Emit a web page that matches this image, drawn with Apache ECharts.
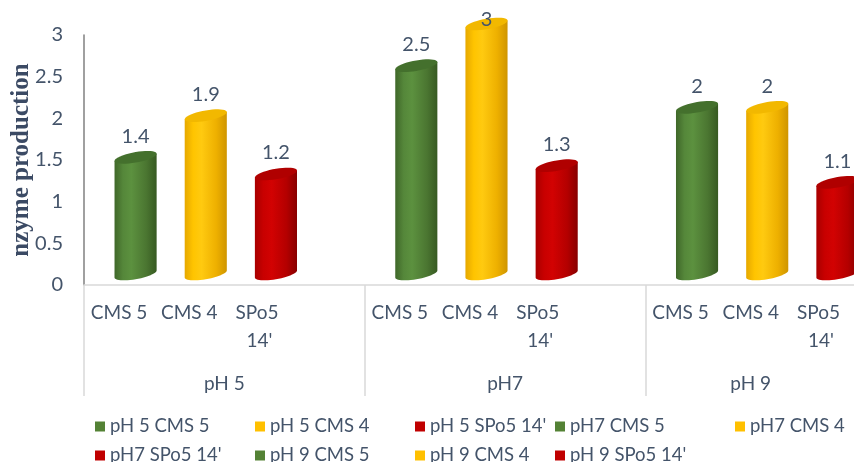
<!DOCTYPE html>
<html>
<head>
<meta charset="utf-8">
<script src="https://cdn.jsdelivr.net/npm/echarts@6/dist/echarts.min.js"></script>
<style>
  html, body { margin: 0; padding: 0; background: #ffffff; }
  #chart { width: 854px; height: 462px; }
</style>
</head>
<body>
<div id="chart"></div>
<script>
// Groups along the axis and the strains measured within each group
const groups = ['pH 5', 'pH7', 'pH 9'];
const strains = ['CMS 5', 'CMS 4', "SPo5 14'"];

// Enzyme production per strain, one array per pH group
const valuesPH5 = [1.4, 1.9, 1.2];
const valuesPH7 = [2.5, 3, 1.3];
const valuesPH9 = [2, 2, 1.1];
const groupValues = [valuesPH5, valuesPH7, valuesPH9];

// Value axis range
const yMin = 0;
const yMax = 3;
const yInterval = 0.5;

// Colour per strain: flat colour, cylinder body shading and cap
const strainColors = ['#548235', '#FFC000', '#C00000'];
const bodyShades = [
  ['#3f6729', '#55873a', '#5c913f', '#4b7631', '#375a22'],
  ['#e6a800', '#ffc400', '#ffca10', '#eeb000', '#cf9500'],
  ['#a80000', '#c80000', '#d20202', '#b40000', '#880000']
];
const capShades = ['#44702d', '#f2b800', '#b00000'];

const textColor = '#44546a';
const font = 'Lato';

// Slots on the category axis: each group's strains, with an empty spacer slot between groups
const slotLabels = [];
const groupSpans = [];
groups.forEach((g, gi) => {
  const start = slotLabels.length;
  strains.forEach(s => slotLabels.push(s));
  if (gi < groups.length - 1) slotLabels.push('');
  groupSpans.push([start, slotLabels.length]);
});
const slotCount = slotLabels.length;
const dividerValues = groupSpans.map(s => s[0]);
const groupCenters = groupSpans.map(s => (s[0] + s[1]) / 2);

// Sheared ellipse outline (tilted cylinder cross-section)
function ellipsePoints(cx, cy, rx, ry, shear, t0, t1, n) {
  const pts = [];
  for (let i = 0; i <= n; i++) {
    const t = t0 + (t1 - t0) * i / n;
    const c = Math.cos(t), s = Math.sin(t);
    pts.push([cx + rx * c, cy + ry * s - shear * rx * c]);
  }
  return pts;
}

function makeCylinderRenderer(strainIdx) {
  return function (params, api) {
    const slot = api.value(0);
    const val = api.value(1);
    const pTop = api.coord([slot, val]);
    const pBase = api.coord([slot, 0]);
    const slotW = api.size([1, 0])[0];
    const rx = slotW * 0.3;
    const ry = rx * 0.25;
    const shear = 0.17;
    const depthX = slotW * 0.235;
    const depthY = -11;
    const cx = pTop[0] + depthX;
    const yTop = pTop[1] + depthY;
    const yBase = pBase[1] + depthY;

    const body = [[cx - rx, yTop + shear * rx]]
      .concat(ellipsePoints(cx, yBase, rx, ry, shear, Math.PI, 0, 24))
      .concat([[cx + rx, yTop - shear * rx]]);
    const cap = ellipsePoints(cx, yTop, rx, ry, shear, 0, Math.PI * 2, 40);
    const shades = bodyShades[strainIdx];
    const labelY = Math.max(yTop - 21, params.coordSys.y - 15);

    return {
      type: 'group',
      children: [
        {
          type: 'polygon',
          shape: { points: body },
          style: {
            fill: new echarts.graphic.LinearGradient(0, 0, 1, 0, [
              { offset: 0, color: shades[0] },
              { offset: 0.2, color: shades[1] },
              { offset: 0.4, color: shades[2] },
              { offset: 0.75, color: shades[3] },
              { offset: 1, color: shades[4] }
            ])
          }
        },
        {
          type: 'polygon',
          shape: { points: cap },
          style: { fill: capShades[strainIdx] }
        },
        {
          type: 'text',
          style: {
            text: String(val),
            x: cx,
            y: labelY,
            align: 'center',
            verticalAlign: 'middle',
            fill: textColor,
            font: '20px ' + font
          }
        }
      ]
    };
  };
}

// One series per group/strain pair, placed in its slot
const series = [];
groups.forEach((g, gi) => {
  strains.forEach((s, si) => {
    series.push({
      name: g + ' ' + s,
      type: 'custom',
      xAxisIndex: 0,
      yAxisIndex: 0,
      renderItem: makeCylinderRenderer(si),
      itemStyle: { color: strainColors[si] },
      encode: { x: 0, y: 1 },
      data: [[groupSpans[gi][0] + si, groupValues[gi][si]]]
    });
  });
});

// Legend laid out in five columns, two rows
const legendCols = [95, 255, 415, 555, 735];
const names = series.map(s => s.name);
const legends = legendCols.map((left, ci) => ({
  orient: 'vertical',
  left: left,
  top: 417,
  width: 160,
  height: 60,
  padding: 0,
  itemWidth: 10,
  itemHeight: 10,
  itemGap: 10,
  icon: 'rect',
  selectedMode: false,
  textStyle: { color: textColor, fontFamily: font, fontSize: 18.5, lineHeight: 18 },
  data: [names[ci], names[ci + legendCols.length]].filter(Boolean)
}));

const chart = echarts.init(document.getElementById('chart'), null, { renderer: 'canvas' });
chart.setOption({
  animation: false,
  backgroundColor: '#ffffff',
  grid: { left: 84, top: 35, width: 772, height: 250, containLabel: false, outerBoundsMode: 'none' },
  legend: legends,
  xAxis: [
    {
      type: 'category',
      data: slotLabels,
      boundaryGap: true,
      axisLine: { show: true, lineStyle: { color: '#d9d9d9', width: 1.5 } },
      axisTick: { show: false },
      axisLabel: {
        interval: 0,
        margin: 14,
        color: textColor,
        fontFamily: font,
        fontSize: 19,
        lineHeight: 28,
        width: 64,
        overflow: 'break'
      },
      splitLine: { show: false }
    },
    {
      type: 'value',
      position: 'bottom',
      min: 0,
      max: slotCount,
      axisLine: { show: false },
      splitLine: { show: false },
      axisTick: {
        show: true,
        customValues: dividerValues,
        length: 111,
        lineStyle: { color: '#d9d9d9', width: 1.5 }
      },
      axisLabel: {
        customValues: groupCenters,
        margin: 89,
        color: textColor,
        fontFamily: font,
        fontSize: 19,
        formatter: v => {
          const i = groupCenters.indexOf(v);
          return i >= 0 ? groups[i] : '';
        }
      }
    }
  ],
  yAxis: {
    type: 'value',
    min: yMin,
    max: yMax,
    interval: yInterval,
    name: 'nzyme production',
    nameLocation: 'middle',
    nameGap: 50,
    nameRotate: 90,
    nameMoveOverlap: false,
    nameTextStyle: {
      fontFamily: 'Liberation Serif',
      fontWeight: 'bold',
      fontSize: 25,
      color: '#3b4a64'
    },
    axisLine: { show: true, lineStyle: { color: '#808080', width: 1.5 } },
    axisTick: { show: false },
    splitLine: { show: false },
    axisLabel: { margin: 21, align: 'right', color: textColor, fontFamily: font, fontSize: 20 }
  },
  series: series
});
</script>
</body>
</html>
